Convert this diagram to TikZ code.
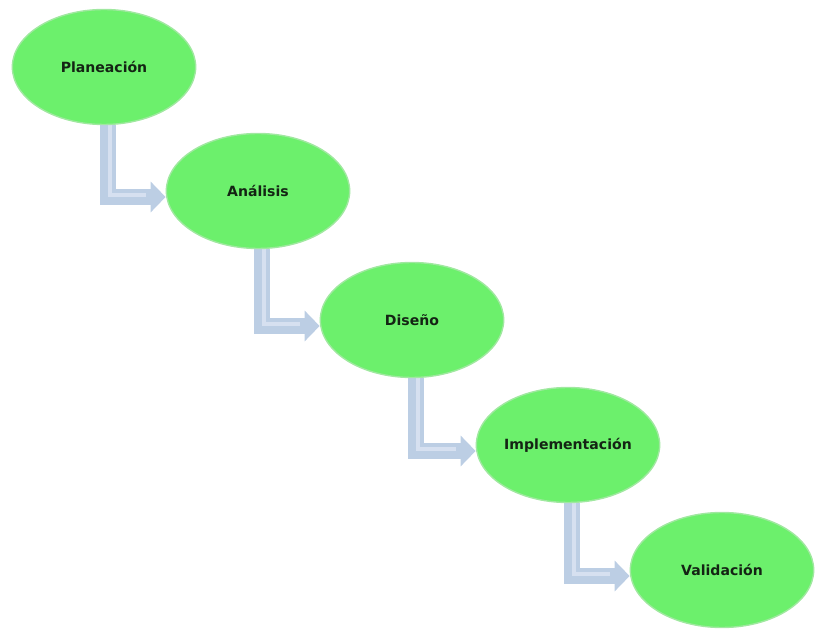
\documentclass[tikz,border=0pt]{standalone}
\usepackage{fontspec}
\setmainfont{DejaVu Sans}
\usetikzlibrary{arrows.meta,positioning,calc,shapes.geometric,backgrounds}

\definecolor{phasegreen}{RGB}{108,240,108}
\definecolor{phaseedge}{RGB}{160,232,160}
\definecolor{flowblue}{RGB}{188,206,228}
\definecolor{flowlight}{RGB}{214,224,240}
\definecolor{phasetext}{RGB}{20,36,20}

\tikzset{
  phase/.style={ellipse, fill=phasegreen, draw=phaseedge, line width=1.2pt,
    minimum width=5.5cm, minimum height=3.45cm, inner sep=0pt,
    font=\bfseries\fontsize{12}{14}\selectfont, text=phasetext},
  flow/.style={draw=flowblue, line width=0.48cm,
    -{Triangle[width=0.9cm,length=0.45cm]}},
  flowshine/.style={draw=flowlight, line width=0.14cm, shorten >=0.6cm}
}

\begin{document}
\begin{tikzpicture}
	\useasboundingbox (0,0) rectangle (24.51,18.99);
	
	% phases
	\node[phase] (plan) at (3.12,16.98) {Planeación};
	\node[phase] (anal) at (7.74,13.26) {Análisis};
	\node[phase] (dise) at (12.36,9.39) {Diseño};
	\node[phase] (impl) at (17.04,5.64) {Implementación};
	\node[phase] (vali) at (21.66,1.89) {Validación};
	
	% bent arrows behind the ellipses
	\begin{scope}[on background layer]
		\draw[flow] ([xshift=0.12cm]plan.south) |- ([yshift=-0.18cm]anal.west);
		\draw[flow] ([xshift=0.12cm]anal.south) |- ([yshift=-0.18cm]dise.west);
		\draw[flow] ([xshift=0.12cm]dise.south) |- ([yshift=-0.18cm]impl.west);
		\draw[flow] ([xshift=0.12cm]impl.south) |- ([yshift=-0.18cm]vali.west);
		
		\draw[flowshine] ([xshift=0.18cm]plan.south) |- ([yshift=-0.12cm]anal.west);
		\draw[flowshine] ([xshift=0.18cm]anal.south) |- ([yshift=-0.12cm]dise.west);
		\draw[flowshine] ([xshift=0.18cm]dise.south) |- ([yshift=-0.12cm]impl.west);
		\draw[flowshine] ([xshift=0.18cm]impl.south) |- ([yshift=-0.12cm]vali.west);
	\end{scope}
\end{tikzpicture}
\end{document}
